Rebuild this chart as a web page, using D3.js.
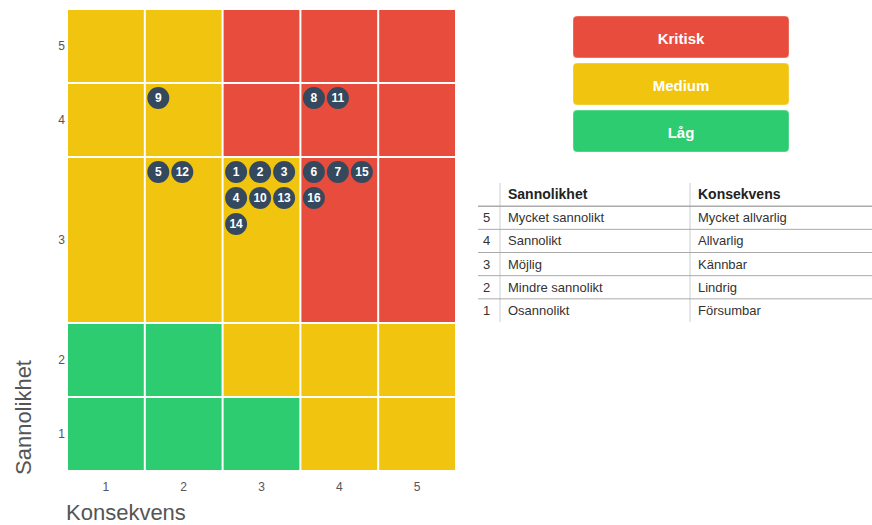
<!DOCTYPE html>
<html>
<head>
<meta charset="utf-8">
<script src="https://cdn.jsdelivr.net/npm/d3@7"></script>
<style>
  body { margin: 0; background: #fff; }
  svg { display: block; font-family: "Liberation Sans", Arial, sans-serif; }
</style>
</head>
<body>
<svg id="chart"></svg>
<script>
const width = 872, height = 525;

// data
const konsekvens = [1, 2, 3, 4, 5];
const sannolikhet = [5, 4, 3, 2, 1];
// risk level per cell: rows = sannolikhet 5..1, columns = konsekvens 1..5
const riskMatrix = [
  ["Medium", "Medium", "Kritisk", "Kritisk", "Kritisk"],
  ["Medium", "Medium", "Kritisk", "Kritisk", "Kritisk"],
  ["Medium", "Medium", "Medium", "Kritisk", "Kritisk"],
  ["Låg", "Låg", "Medium", "Medium", "Medium"],
  ["Låg", "Låg", "Låg", "Medium", "Medium"]
];
const riskIds =  [1, 2, 3, 4, 5, 6, 7, 8, 9, 10, 11, 12, 13, 14, 15, 16];
const riskKons = [3, 3, 3, 3, 2, 4, 4, 4, 2, 3, 4, 2, 3, 3, 4, 4];
const riskSann = [3, 3, 3, 3, 3, 3, 3, 4, 4, 3, 4, 3, 3, 3, 3, 3];
const levels = ["Kritisk", "Medium", "Låg"];
const levelColors = ["#e74c3c", "#f1c40f", "#2ecc71"];
const tableHeader = ["", "Sannolikhet", "Konsekvens"];
const tableNr = [5, 4, 3, 2, 1];
const tableSann = ["Mycket sannolikt", "Sannolikt", "Möjlig", "Mindre sannolikt", "Osannolikt"];
const tableKons = ["Mycket allvarlig", "Allvarlig", "Kännbar", "Lindrig", "Försumbar"];

const color = d3.scaleOrdinal().domain(levels).range(levelColors);

const svg = d3.select("#chart")
    .attr("width", width)
    .attr("height", height);

// matrix layout
const gridLeft = 68, gridRight = 457, gridTop = 10, gridBottom = 472;
const perRow = 3, dotR = 11, dotStepX = 24, dotStepY = 26;

const risks = riskIds.map((id, i) => ({id, k: riskKons[i], s: riskSann[i]}));
const cellRisks = d3.group(risks, d => d.s, d => d.k);

// rows that need several lines of dots get extra height
const rowWeight = sannolikhet.map(s => {
  const byK = cellRisks.get(s);
  const maxN = byK ? d3.max(Array.from(byK.values()), v => v.length) : 0;
  return Math.ceil(maxN / perRow) > 1 ? 2.243 : 1;
});
const cum = [0, ...Array.from(d3.cumsum(rowWeight))];
const yLin = d3.scaleLinear().domain([0, cum[cum.length - 1]]).range([gridTop, gridBottom]);
const rowTop = s => yLin(cum[sannolikhet.indexOf(s)]);
const rowH = s => yLin(cum[sannolikhet.indexOf(s) + 1]) - rowTop(s);

const x = d3.scaleBand().domain(konsekvens).range([gridLeft, gridRight]);

const cells = [];
sannolikhet.forEach((s, ri) => konsekvens.forEach((k, ci) => {
  cells.push({s, k, level: riskMatrix[ri][ci]});
}));

svg.append("g")
  .selectAll("rect")
  .data(cells)
  .join("rect")
    .attr("x", d => x(d.k))
    .attr("y", d => rowTop(d.s))
    .attr("width", x.bandwidth() - 2)
    .attr("height", d => rowH(d.s) - 2)
    .attr("fill", d => color(d.level));

// risk dots
const dots = [];
cellRisks.forEach((byK, s) => byK.forEach((list, k) => {
  list.sort((a, b) => a.id - b.id).forEach((d, i) => {
    dots.push({
      id: d.id,
      cx: x(k) + 12.5 + (i % perRow) * dotStepX,
      cy: rowTop(s) + 14 + Math.floor(i / perRow) * dotStepY
    });
  });
}));

const dotG = svg.append("g")
  .selectAll("g")
  .data(dots)
  .join("g")
    .attr("transform", d => `translate(${d.cx},${d.cy})`);
dotG.append("circle")
  .attr("r", dotR)
  .attr("fill", "#34495e");
dotG.append("text")
  .attr("text-anchor", "middle")
  .attr("dy", "0.36em")
  .attr("fill", "#fff")
  .attr("font-size", 12)
  .attr("font-weight", "bold")
  .text(d => d.id);

// axis ticks
svg.append("g")
  .selectAll("text")
  .data(sannolikhet)
  .join("text")
    .attr("x", 65)
    .attr("y", d => rowTop(d) + (rowH(d) - 2) / 2)
    .attr("dy", "0.35em")
    .attr("text-anchor", "end")
    .attr("font-size", 12)
    .attr("fill", "#555")
    .text(d => d);

svg.append("g")
  .selectAll("text")
  .data(konsekvens)
  .join("text")
    .attr("x", d => x(d) + (x.bandwidth() - 2) / 2)
    .attr("y", 491)
    .attr("text-anchor", "middle")
    .attr("font-size", 12)
    .attr("fill", "#555")
    .text(d => d);

// axis titles
svg.append("text")
  .attr("x", 66)
  .attr("y", 520)
  .attr("font-size", 22)
  .attr("fill", "#555")
  .text("Konsekvens");

svg.append("text")
  .attr("transform", "translate(31,475) rotate(-90)")
  .attr("font-size", 22)
  .attr("fill", "#555")
  .text("Sannolikhet");

// legend buttons
const legY = d3.scaleBand().domain(levels).range([16, 152]).paddingInner(0.11);
const legG = svg.append("g")
  .selectAll("g")
  .data(levels)
  .join("g")
    .attr("transform", d => `translate(573,${legY(d)})`);
legG.append("rect")
  .attr("width", 216)
  .attr("height", legY.bandwidth())
  .attr("rx", 4)
  .attr("fill", d => color(d))
  .attr("stroke", "rgba(255,255,255,0.35)");
legG.append("text")
  .attr("x", 108)
  .attr("y", legY.bandwidth() / 2 + 2)
  .attr("dy", "0.35em")
  .attr("text-anchor", "middle")
  .attr("fill", "#fff")
  .attr("font-size", 15)
  .attr("font-weight", "bold")
  .text(d => d);

// description table
const tLeft = 478, tRight = 872, colX = [478, 500, 690];
const tRows = tableNr.map((n, i) => [n, tableSann[i], tableKons[i]]);
const ty = d3.scaleBand().domain(d3.range(tRows.length + 1)).range([183, 322]);
const table = svg.append("g");

table.append("g").selectAll("line")
  .data(colX.slice(1))
  .join("line")
    .attr("x1", d => d).attr("x2", d => d)
    .attr("y1", 183).attr("y2", 322)
    .attr("stroke", "#ccc");

table.append("g").selectAll("line")
  .data(d3.range(1, tRows.length + 1))
  .join("line")
    .attr("x1", tLeft).attr("x2", tRight)
    .attr("y1", d => ty(d)).attr("y2", d => ty(d))
    .attr("stroke", "#aaa")
    .attr("stroke-width", d => d === 1 ? 1.5 : 1);

table.append("g").selectAll("text")
  .data(tableHeader)
  .join("text")
    .attr("x", (d, i) => colX[i] + 8)
    .attr("y", ty(0) + ty.bandwidth() / 2)
    .attr("dy", "0.35em")
    .attr("font-size", 14)
    .attr("font-weight", "bold")
    .attr("fill", "#222")
    .text(d => d);

tRows.forEach((row, ri) => {
  table.append("g").selectAll("text")
    .data(row)
    .join("text")
      .attr("x", (d, i) => i === 0 ? colX[0] + 5 : colX[i] + 8)
      .attr("y", ty(ri + 1) + ty.bandwidth() / 2)
      .attr("dy", "0.35em")
      .attr("font-size", 13)
      .attr("fill", "#333")
      .text(d => d);
});
</script>
</body>
</html>
